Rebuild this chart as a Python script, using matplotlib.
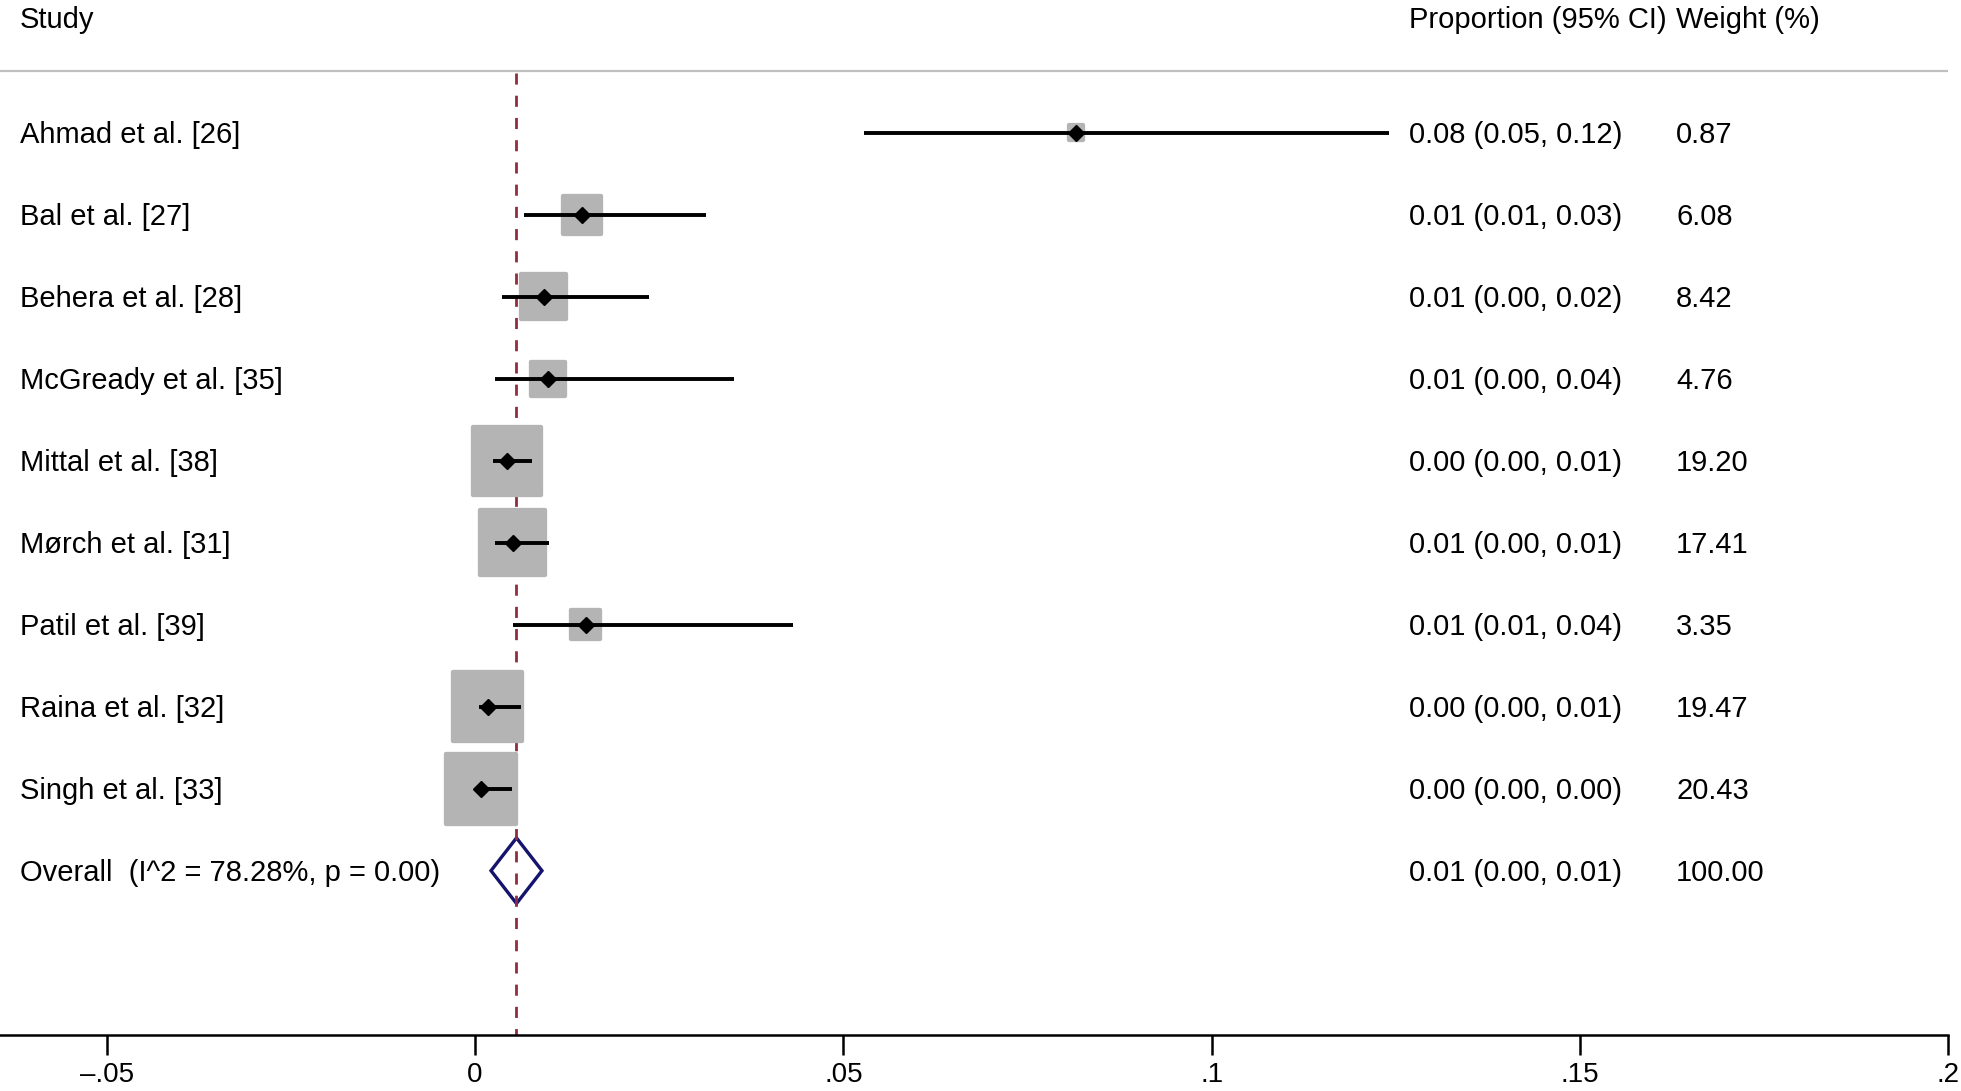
import matplotlib
matplotlib.use("Agg")
import matplotlib.pyplot as plt
from matplotlib.transforms import blended_transform_factory
import numpy as np

plt.rcParams['font.family'] = ['Liberation Sans', 'DejaVu Sans']

# study data
studies = ['Ahmad et al. [26]', 'Bal et al. [27]', 'Behera et al. [28]',
           'McGready et al. [35]', 'Mittal et al. [38]', 'M\u00f8rch et al. [31]',
           'Patil et al. [39]', 'Raina et al. [32]', 'Singh et al. [33]']
est = [0.0816, 0.0145, 0.0093, 0.0099, 0.0043, 0.0051, 0.0150, 0.0017, 0.0008]
lo = [0.0528, 0.0067, 0.0036, 0.0027, 0.0024, 0.0027, 0.0051, 0.0005, 0.0000]
hi = [0.1240, 0.0314, 0.0236, 0.0352, 0.0078, 0.0101, 0.0432, 0.0063, 0.0050]
ci_text = ['0.08 (0.05, 0.12)', '0.01 (0.01, 0.03)', '0.01 (0.00, 0.02)',
           '0.01 (0.00, 0.04)', '0.00 (0.00, 0.01)', '0.01 (0.00, 0.01)',
           '0.01 (0.01, 0.04)', '0.00 (0.00, 0.01)', '0.00 (0.00, 0.00)']
weights = [0.87, 6.08, 8.42, 4.76, 19.20, 17.41, 3.35, 19.47, 20.43]

overall_label = 'Overall  (I^2 = 78.28%, p = 0.00)'
overall_est = 0.00563
overall_lo = 0.00217
overall_hi = 0.00909
overall_text = '0.01 (0.00, 0.01)'
overall_weight = '100.00'

xticks = [-0.05, 0, 0.05, 0.1, 0.15, 0.2]
xticklabels = ['\u2013.05', '0', '.05', '.1', '.15', '.2']

W, H = 1961, 1091
fig = plt.figure(figsize=(W / 100, H / 100), dpi=100)
axis_px = 1035
ax = fig.add_axes([0, 1 - axis_px / H, 1948.4 / W, axis_px / H])

row0, step = 132.7, 82.0
ax.set_xlim(-0.06448, 0.2)
ax.set_ylim((axis_px - row0) / step, -row0 / step)

for s in ['top', 'left', 'right']:
    ax.spines[s].set_visible(False)
ax.spines['bottom'].set_linewidth(1.8)
ax.set_yticks([])
ax.set_xticks(xticks)
ax.set_xticklabels(xticklabels, fontsize=20)
ax.tick_params(axis='x', length=14.5, width=1.8, pad=5)

fs = 21
# shift so the middle of the capitals sits on the row
dy = 0.716 * fs * 100 / 72 / 2 / step
y = np.arange(len(studies))
col = blended_transform_factory(fig.transFigure, ax.transData)


def cell(x_px, yy, s):
    ax.text(x_px / W, yy + dy, s, transform=col, fontsize=fs, va='baseline')


# header
head_y = (18 - row0) / step
cell(20, head_y, 'Study')
cell(1409, head_y, 'Proportion (95% CI)')
cell(1676, head_y, 'Weight (%)')
ax.axhline((71 - row0) / step, color='#c0c0c0', lw=1.6, zorder=1)

# overall reference line
line_top = (73 - row0) / step
ax.plot([overall_est, overall_est], [line_top, ax.get_ylim()[0]],
        color='#902d3e', lw=2, linestyle=(0, (4, 4)), zorder=2)

# weight boxes, CI lines, point estimates
ax.scatter(est, y, s=[125.5 * w for w in weights], marker='s', color='#b4b4b4',
           edgecolors='#b4b4b4', linewidths=3.1, zorder=3)
ax.hlines(y, lo, hi, color='black', lw=2.8, zorder=4)
ax.plot(est, y, 'D', color='black', ms=8, zorder=5)

for i in range(len(studies)):
    cell(20, y[i], studies[i])
    cell(1409, y[i], ci_text[i])
    cell(1676, y[i], '%.2f' % weights[i])

# overall diamond
oy = len(studies)
h = 0.40
ax.fill([overall_lo, overall_est, overall_hi, overall_est],
        [oy, oy - h, oy, oy + h], facecolor='none', edgecolor='#14146e',
        lw=2.4, zorder=1.5)
cell(20, oy, overall_label)
cell(1409, oy, overall_text)
cell(1676, oy, overall_weight)

fig.savefig('out.png', dpi=100)
